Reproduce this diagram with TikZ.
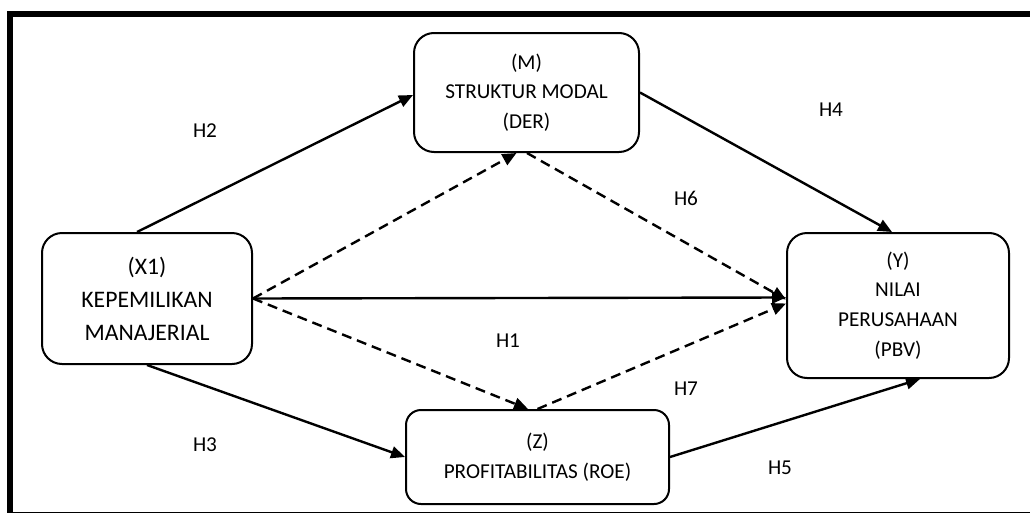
\documentclass[tikz,border=0pt]{standalone}
\usepackage{fontspec}
\setmainfont{Carlito}
\usetikzlibrary{arrows.meta}
\begin{document}
\begin{tikzpicture}[x=1pt,y=-1pt,
  box/.style={draw=black,line width=2pt,rounded corners=20pt,inner sep=0pt,align=center,
    font=\fontsize{21.2}{29.6}\selectfont},
  hlabel/.style={inner sep=0pt,font=\fontsize{21.2}{25}\selectfont},
  link/.style={line width=2.4pt,-{Triangle[length=14pt,width=12pt]}},
  dlink/.style={link,dash pattern=on 10pt off 6pt}]
\useasboundingbox (0,0) rectangle (1030,514);
% frame
\draw[line width=6pt] (10,512.7) -- (10,14) -- (1030,14);
\draw[line width=1.3pt] (7,512.7) -- (1030,512.7);
% boxes
\node[box,minimum width=210pt,minimum height=131pt,font=\fontsize{23.7}{33}\selectfont] (X1) at (147,298.5) {(X1)\\KEPEMILIKAN\\MANAJERIAL};
\node[box,minimum width=225pt,minimum height=119pt] (M) at (526.5,92.5) {(M)\\STRUKTUR MODAL\\(DER)};
\node[box,minimum width=222pt,minimum height=145pt] (Y) at (898,305.5) {(Y)\\NILAI\\PERUSAHAAN\\(PBV)};
\node[box,rounded corners=15pt,minimum width=263pt,minimum height=94pt] (Z) at (537.5,457) {(Z)\\PROFITABILITAS (ROE)};
% solid arrows
\draw[link] ([xshift=-10pt]X1.north) -- ([yshift=-2.5pt]M.west);
\draw[link] (M.east) -- ([xshift=-6pt]Y.north);
\draw[link] (X1.south) -- (Z.west);
\draw[link] (Z.east) -- ([xshift=22pt]Y.south);
\draw[link] (X1.east) -- ([yshift=8pt]Y.west);
% dashed arrows
\draw[dlink] (X1.east) -- ([xshift=-10pt]M.south);
\draw[dlink] (X1.east) -- ([xshift=-9.5pt]Z.north);
\draw[dlink] ([xshift=0.5pt]M.south) -- ([yshift=6pt]Y.west);
\draw[dlink] (Z.north) -- ([yshift=2pt]Y.west);
% labels
\node[hlabel] (h2) at (205,131) {H2};
\node[hlabel] (h4) at (831,110) {H4};
\node[hlabel] (h6) at (686,198) {H6};
\node[hlabel] (h1) at (508,341) {H1};
\node[hlabel] (h7) at (686,389) {H7};
\node[hlabel] (h3) at (205,445) {H3};
\node[hlabel] (h5) at (780,468) {H5};
\end{tikzpicture}
\end{document}
